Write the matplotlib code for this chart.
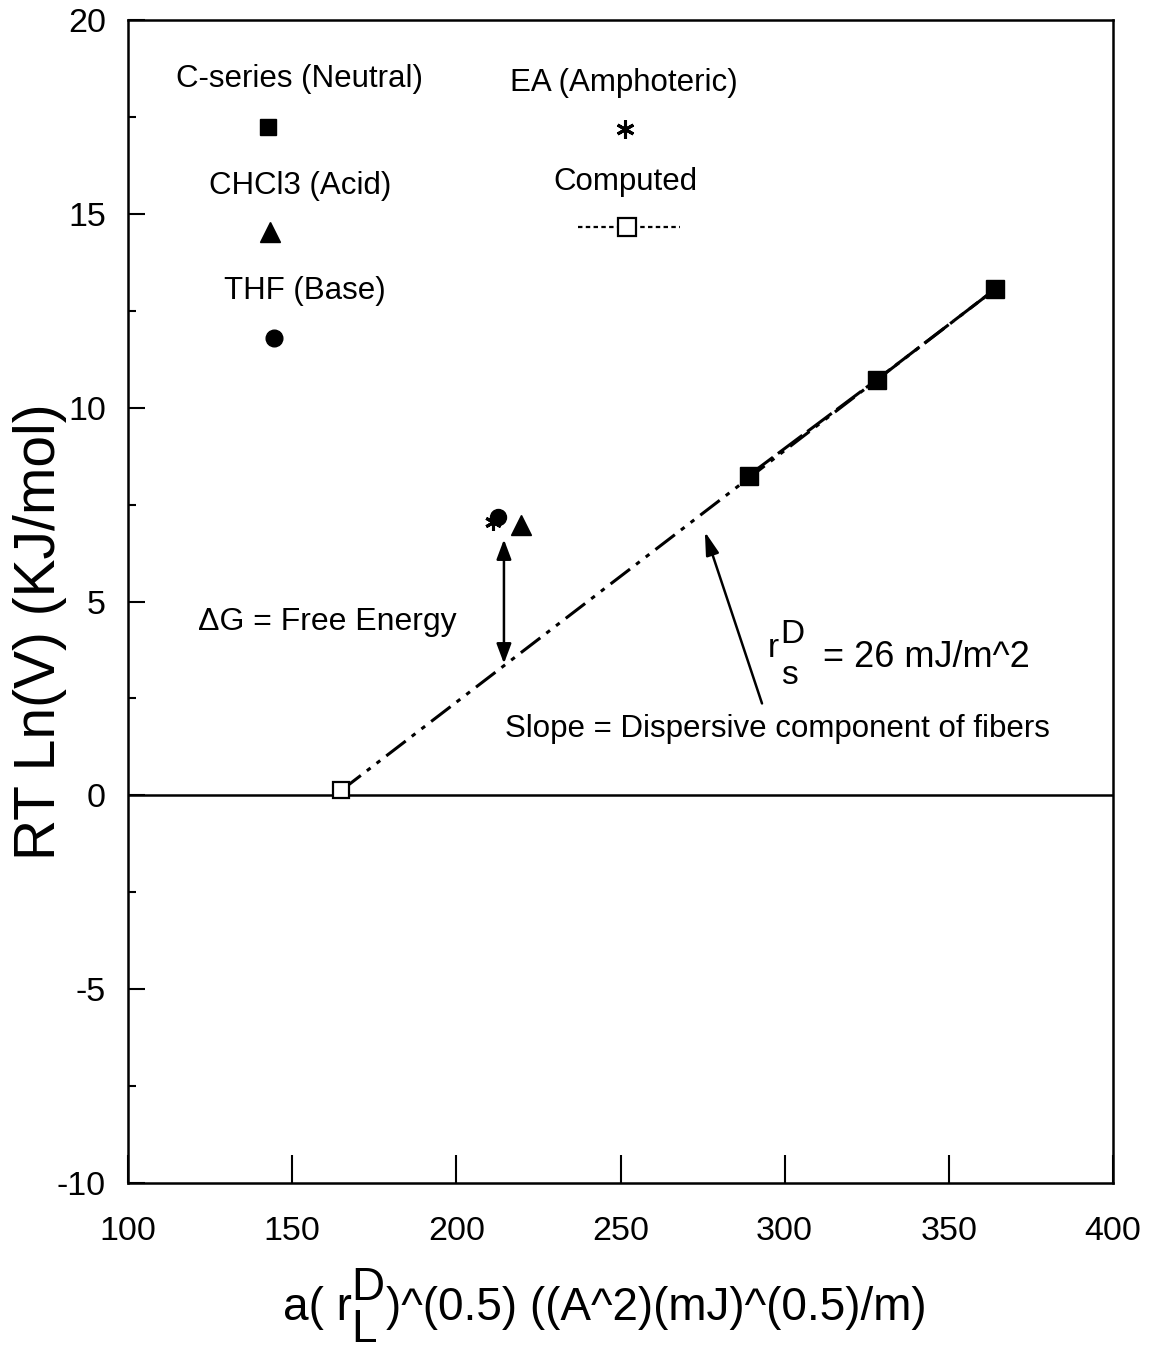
import matplotlib
matplotlib.use("Agg")
import matplotlib.pyplot as plt
from matplotlib import font_manager
from matplotlib.ticker import MultipleLocator

# ---------------- data ----------------
cseries_x = [289.0, 328.0, 364.0]
cseries_y = [8.25, 10.72, 13.05]
computed_x = [165.0, 364.0]
computed_y = [0.13, 13.05]
thf_x = [212.7]
thf_y = [7.19]
ea_x = [211.2]
ea_y = [7.04]
chcl3_x = [219.7]
chcl3_y = [6.98]

# key markers placed inside the plot
key_square = (142.6, 17.24)
key_triangle = (143.3, 14.54)
key_circle = (144.5, 11.80)
key_star = (251.4, 17.20)
key_open = (252.0, 14.66)
key_line_x = [237.0, 268.0]
key_line_y = [14.66, 14.66]

xticks = [100, 150, 200, 250, 300, 350, 400]
xticklabels = ["100", "150", "200", "250", "300", "350", "400"]
yticks = [-10, -5, 0, 5, 10, 15, 20]
yticklabels = ["-10", "-5", "0", "5", "10", "15", "20"]

# ---------------- fonts ----------------
names = {f.name for f in font_manager.fontManager.ttflist}
base = "Liberation Sans" if "Liberation Sans" in names else "DejaVu Sans"
plt.rcParams["font.family"] = [base, "DejaVu Sans"]

W, H = 1151, 1353
fig = plt.figure(figsize=(W / 100, H / 100), dpi=100)
ax = fig.add_axes([128 / W, 1 - 1183 / H, (1113 - 128) / W, (1183 - 20) / H])

ax.set_xlim(100, 400)
ax.set_ylim(-10, 20)
ax.set_xticks(xticks)
ax.set_xticklabels(xticklabels)
ax.set_yticks(yticks)
ax.set_yticklabels(yticklabels)
ax.yaxis.set_minor_locator(MultipleLocator(2.5))
ax.tick_params(axis="x", which="major", direction="in", length=20, width=1.5,
               labelsize=24.5, pad=24, top=False)
ax.tick_params(axis="y", which="major", direction="in", length=12, width=1.5,
               labelsize=24.5, pad=16, right=False)
ax.tick_params(axis="y", which="minor", direction="in", length=6, width=1.5, right=False)
for s in ax.spines.values():
    s.set_linewidth(1.8)

# zero line
ax.axhline(0, color="black", lw=1.8, zorder=1)

# computed line and points
ax.plot(computed_x, computed_y, color="black", lw=2.2,
        linestyle=(0, (8, 2.5, 1.5, 2.5, 1.5, 2.5)), zorder=2)
ax.plot(cseries_x, cseries_y, color="black", lw=2.2, linestyle=(0, (10, 2)), zorder=2)
ax.plot(computed_x[:1], computed_y[:1], marker="s", ms=12, mfc="white",
        mec="black", mew=1.6, ls="none", zorder=4)
ax.plot(cseries_x, cseries_y, marker="s", ms=12.5, mfc="black", mec="black",
        ls="none", zorder=4)

# other probes
ax.plot(thf_x, thf_y, marker="o", ms=11.5, color="black", ls="none", zorder=4)
ax.plot(ea_x, ea_y, marker=(6, 2, 0), ms=12, mew=2.2, color="black", ls="none", zorder=5)
ax.plot(chcl3_x, chcl3_y, marker="^", ms=14, color="black", ls="none", zorder=4)

# key markers
ax.plot([key_square[0]], [key_square[1]], marker="s", ms=12, color="black", ls="none")
ax.plot([key_triangle[0]], [key_triangle[1]], marker="^", ms=15, color="black", ls="none")
ax.plot([key_circle[0]], [key_circle[1]], marker="o", ms=12, color="black", ls="none")
ax.plot([key_star[0]], [key_star[1]], marker=(6, 2, 0), ms=13, mew=2.2, color="black", ls="none")
ax.plot(key_line_x, key_line_y, color="black", lw=1.6, ls=(0, (2, 1.5)))
ax.plot([key_open[0]], [key_open[1]], marker="s", ms=13, mfc="white", mec="black",
        mew=1.6, ls="none")

# key texts
tkw = dict(ha="center", va="center", fontsize=22.5)
ax.text(152.1, 18.48, "C-series (Neutral)", **tkw)
ax.text(152.4, 15.72, "CHCl3 (Acid)", **tkw)
ax.text(153.8, 13.02, "THF (Base)", **tkw)
ax.text(251.1, 18.38, "EA (Amphoteric)", **tkw)
ax.text(251.4, 15.82, "Computed", **tkw)

# annotations
ax.text(160.8, 4.48, "\u0394G = Free Energy", ha="center", va="center", fontsize=23)
ax.text(297.8, 1.70, "Slope = Dispersive component of fibers", ha="center",
        va="center", fontsize=22.5)
ax.text(294.9, 3.56, "r", ha="left", va="baseline", fontsize=24)
ax.text(298.8, 3.62, "D\ns", ha="left", va="center", fontsize=24,
        linespacing=1.45, multialignment="left")
ax.text(311.7, 3.30, "= 26 mJ/m^2", ha="left", va="baseline", fontsize=26)

ax.annotate("", xy=(214.5, 3.40), xytext=(214.5, 6.6),
            arrowprops=dict(arrowstyle="<|-|>,head_length=1.2,head_width=0.45",
                            color="black", lw=1.8, shrinkA=0, shrinkB=0))
ax.annotate("", xy=(275.7, 6.80), xytext=(293.1, 2.37),
            arrowprops=dict(arrowstyle="-|>,head_length=1.4,head_width=0.4",
                            color="black", lw=1.8, shrinkA=0, shrinkB=0))

# axis labels (built from pieces to mimic stacked super/subscript)
def fx(x):
    return x / W

def fy(y):
    return 1 - y / H

fig.text(fx(40), fy(632), "RT Ln(V) (KJ/mol)", rotation=90, ha="center",
         va="center", fontsize=41)
xl = 33
fig.text(fx(352), fy(1320), "a( r", ha="right", va="baseline", fontsize=xl)
fig.text(fx(351), fy(1309), "D\nL", ha="left", va="center", fontsize=xl,
         linespacing=0.95, multialignment="left")
fig.text(fx(386), fy(1320), ")^(0.5) ((A^2)(mJ)^(0.5)/m)", ha="left", va="baseline",
         fontsize=xl)

fig.savefig("out.png", dpi=100, facecolor="white")
